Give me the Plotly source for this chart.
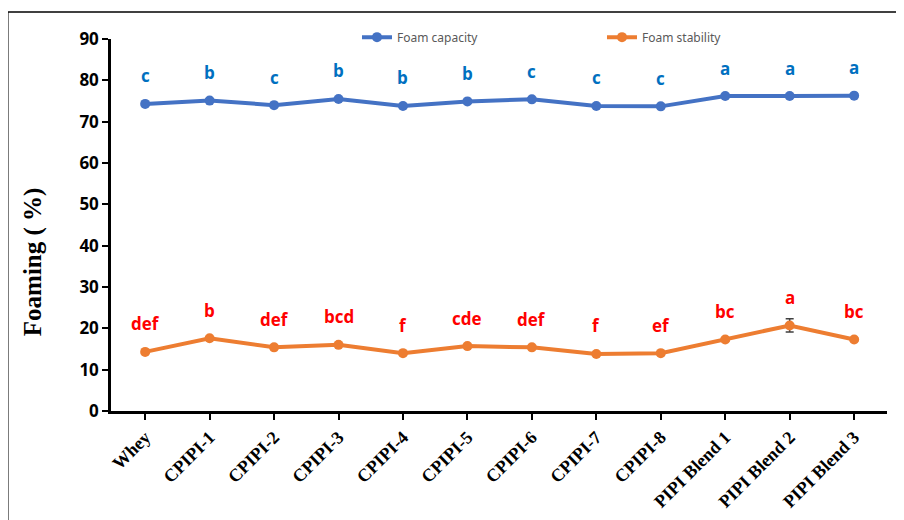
import plotly.graph_objects as go

categories = ["Whey", "CPIPI-1", "CPIPI-2", "CPIPI-3", "CPIPI-4", "CPIPI-5",
              "CPIPI-6", "CPIPI-7", "CPIPI-8", "PIPI Blend 1", "PIPI Blend 2", "PIPI Blend 3"]
foam_capacity = [74.3, 75.1, 74.0, 75.5, 73.8, 74.9, 75.4, 73.8, 73.7, 76.2, 76.2, 76.3]
foam_stability = [14.3, 17.6, 15.4, 16.0, 14.0, 15.7, 15.4, 13.8, 14.0, 17.3, 20.7, 17.3]
stability_err = [0.3, 0.3, 0.3, 0.3, 0.3, 0.3, 0.3, 0.3, 0.3, 0.4, 1.6, 0.3]
capacity_letters = ["c", "b", "c", "b", "b", "b", "c", "c", "c", "a", "a", "a"]
stability_letters = ["def", "b", "def", "bcd", "f", "cde", "def", "f", "ef", "bc", "a", "bc"]
y_ticks = [0, 10, 20, 30, 40, 50, 60, 70, 80, 90]

BLUE = "#4472C4"
ORANGE = "#ED7D31"

fig = go.Figure()
fig.add_trace(go.Scatter(
    x=categories, y=foam_capacity, name="Foam capacity", mode="lines+markers",
    line=dict(color=BLUE, width=4), marker=dict(color=BLUE, size=10)))
fig.add_trace(go.Scatter(
    x=categories, y=foam_stability, name="Foam stability", mode="lines+markers",
    line=dict(color=ORANGE, width=4), marker=dict(color=ORANGE, size=10),
    error_y=dict(type="data", array=stability_err, color="#404040", thickness=1.5, width=4)))

annotations = []
for c, v, t in zip(categories, foam_capacity, capacity_letters):
    annotations.append(dict(x=c, y=v, text=t, showarrow=False, yshift=28,
                            font=dict(family="Open Sans", size=17, color="#0070C0", weight="bold")))
for c, v, t in zip(categories, foam_stability, stability_letters):
    annotations.append(dict(x=c, y=v, text=t, showarrow=False, yshift=28,
                            font=dict(family="Open Sans", size=17, color="#FF0000", weight="bold")))
annotations.append(dict(x=-0.1005, y=0.40, xref="paper", yref="paper", text="Foaming ( %)",
                        xanchor="center", yanchor="middle",
                        textangle=-90, showarrow=False,
                        font=dict(family="Liberation Serif", size=25, color="black", weight="bold")))

fig.update_layout(
    width=904, height=520,
    margin=dict(l=103, r=25, t=31, b=117, autoexpand=False),
    paper_bgcolor="white", plot_bgcolor="white",
    showlegend=True,
    legend=dict(orientation="h", x=0.317, y=1.005, xanchor="left", yanchor="middle",
                font=dict(family="Noto Sans", size=12, color="#595959"),
                entrywidth=200, entrywidthmode="pixels", bgcolor="rgba(0,0,0,0)"),
    annotations=annotations,
    shapes=[
        dict(type="line", xref="paper", yref="paper", x0=-0.1327, x1=1.05, y0=1.0726, y1=1.0726,
             line=dict(color="black", width=1.5)),
        dict(type="line", xref="paper", yref="paper", x0=-0.1327, x1=-0.1327, y0=1.0726, y1=-0.32,
             line=dict(color="black", width=1)),
    ],
)
fig.update_xaxes(range=[-0.53, 11.51], showline=True, linecolor="black", linewidth=2.5,
                 ticks="outside", ticklen=6, tickwidth=2, tickcolor="black", tickangle=-45,
                 showgrid=False, zeroline=False,
                 tickfont=dict(family="Liberation Serif", size=18, color="black", weight="bold"))
fig.update_yaxes(range=[0, 90], tickvals=y_ticks, showline=True, linecolor="black", linewidth=2.5,
                 ticks="outside", ticklen=6, tickwidth=2, tickcolor="black",
                 showgrid=False, zeroline=False,
                 tickfont=dict(family="Open Sans", size=17, color="black", weight="bold"))

fig.write_html("out.html")
